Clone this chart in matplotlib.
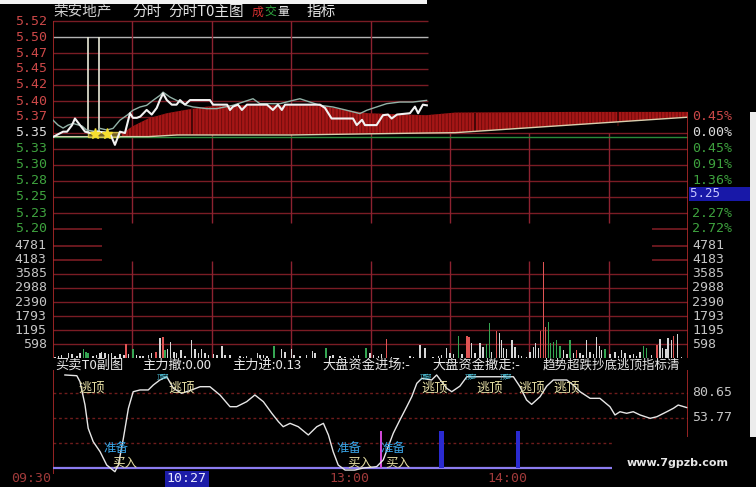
import matplotlib.pyplot as plt
from matplotlib.patches import Rectangle

plt.rcParams['font.family'] = ['Noto Sans CJK SC', 'DejaVu Sans']
plt.rcParams['hatch.linewidth'] = 0.6
MONO = 'DejaVu Sans Mono'
CJK = ['Noto Sans CJK SC', 'DejaVu Sans']

# ---- data ----
prev_close = 5.35
pct_step = 0.004539
price_labels = ['5.52', '5.50', '5.47', '5.45', '5.42', '5.40', '5.37',
                '5.35', '5.33', '5.30', '5.28', '5.25', '5.23', '5.20']
pct_labels = ['', '', '', '', '', '', '0.45%',
              '0.00%', '0.45%', '0.91%', '1.36%', '5.25', '2.27%', '2.72%']
vol_labels = ['4781', '4183', '3585', '2988', '2390', '1793', '1195', '598']
ind_labels = ['80.65', '53.77']

price_m = [0, 3.8, 5.3, 7.2, 8.3, 10.2, 12.1, 14.0, 17.0, 21.5,
           23.4, 25.3, 27.2, 29.1, 30.2, 31.7, 33.0, 35.4, 37.3, 39.2,
           40.4, 41.6, 43.0, 44.9, 46.7, 48.0, 49.9, 51.8, 59.3, 60.5,
           65.8, 66.9, 68.0, 69.9, 71.4, 73.3, 80.9, 83.1, 85.0, 86.5,
           87.7, 100.9, 102.8, 105.3, 113.4, 114.8, 116.8, 117.9, 122.3, 124.7,
           126.6, 128.0, 130.0, 134.9, 136.8, 138.0, 139.8, 141.3]
price_v = [5.344, 5.352, 5.352, 5.362, 5.372, 5.362, 5.352, 5.350, 5.352, 5.350,
           5.332, 5.352, 5.350, 5.380, 5.373, 5.373, 5.375, 5.385, 5.378, 5.388,
           5.400, 5.410, 5.400, 5.393, 5.393, 5.400, 5.393, 5.400, 5.400, 5.393,
           5.393, 5.385, 5.390, 5.393, 5.385, 5.393, 5.393, 5.385, 5.393, 5.385,
           5.393, 5.393, 5.388, 5.372, 5.372, 5.362, 5.370, 5.362, 5.362, 5.377,
           5.378, 5.372, 5.378, 5.380, 5.390, 5.380, 5.393, 5.392]

avg_m = [0, 1.9, 3.8, 5.7, 7.6, 11.0, 12.7, 16.6, 17.8, 20.4,
         22.7, 25.3, 28.0, 30.2, 32.9, 35.4, 37.8, 40.4, 41.6, 44.2,
         46.7, 50.5, 52.9, 58.1, 61.9, 68.0, 71.8, 75.6, 78.2, 85.8,
         90.7, 93.3, 97.1, 100.9, 105.8, 111.0, 116.0, 118.6, 122.3, 126.1,
         131.1, 136.0, 141.2]
avg_v = [5.3695, 5.362, 5.3575, 5.362, 5.3645, 5.3605, 5.3545, 5.352, 5.357, 5.3545,
         5.357, 5.3695, 5.377, 5.3845, 5.3895, 5.392, 5.3995, 5.407, 5.412, 5.4045,
         5.3995, 5.392, 5.3895, 5.387, 5.387, 5.392, 5.397, 5.402, 5.3945, 5.3945,
         5.3995, 5.402, 5.397, 5.392, 5.3895, 5.3845, 5.3795, 5.3845, 5.3895, 5.3945,
         5.397, 5.397, 5.3995]

red_m = [26, 30, 36, 43, 50, 58, 68, 101, 106, 119, 141, 152, 196, 240]
red_top = [5.349, 5.360, 5.372, 5.380, 5.385, 5.390, 5.392, 5.392, 5.388, 5.380,
           5.377, 5.381, 5.382, 5.382]
red_bot = [5.345, 5.345, 5.345, 5.346, 5.347, 5.347, 5.347, 5.348, 5.348, 5.349,
           5.350, 5.3505, 5.362, 5.374]
red_dark_m = [52.4, 159.5, 213.5]
base_m = [0, 36, 47, 90, 141, 152, 240]
base_v = [5.3445, 5.3445, 5.347, 5.347, 5.350, 5.3505, 5.374]
mark_m = [13.3, 17.5]
star_m = [15.9, 20.4]
star_v = [5.349, 5.349]

vol_m = [0.8, 2.0, 3.3, 5.8, 7.1, 9.0, 10.2, 11.5, 12.5, 13.3,
         15.2, 16.5, 17.8, 18.4, 19.7, 20.9, 22.2, 23.4, 25.3, 26.8,
         27.6, 28.5, 30.3, 31.6, 32.9, 34.1, 36.0, 37.3, 38.9, 40.4,
         41.5, 42.3, 43.2, 44.5, 45.7, 46.7, 48.3, 49.9, 52.4, 53.7,
         54.9, 56.2, 57.4, 58.7, 60.6, 61.9, 63.8, 65.0, 66.9, 70.7,
         71.9, 73.2, 77.2, 78.2, 79.5, 80.8, 83.5, 86.4, 87.7, 90.2,
         91.1, 93.4, 95.9, 98.1, 99.0, 103.2, 104.7, 105.9, 108.5, 110.4,
         113.5, 115.4, 118.3, 119.8, 121.1, 123.0, 124.2, 126.1, 128.0, 134.9,
         136.2, 138.7, 140.6, 143.7, 145.6, 146.9, 148.8, 150.0, 151.3, 153.2,
         154.5, 156.4, 157.3, 158.2, 159.5, 161.4, 162.6, 163.9, 164.9, 165.8,
         167.7, 168.7, 169.6, 170.2, 171.5, 173.4, 174.6, 175.9, 177.1, 179.0,
         180.3, 181.6, 182.4, 183.4, 184.3, 185.3, 186.2, 187.2, 188.1, 189.1,
         190.4, 191.6, 192.9, 194.2, 195.4, 196.7, 197.9, 199.2, 200.4, 201.7,
         203.0, 204.2, 205.5, 206.5, 207.4, 208.6, 210.5, 212.4, 213.7, 214.9,
         216.2, 218.1, 219.3, 220.6, 221.9, 223.1, 224.4, 226.3, 228.2, 229.4,
         230.4, 231.7, 232.5, 233.8, 234.5, 236.1, 237.6]
vol_v = [71, 99, 142, 242, 185, 100, 213, 398, 284, 242,
         100, 142, 213, 284, 242, 185, 213, 100, 185, 142,
         612, 185, 384, 142, 100, 100, 142, 213, 284, 854,
         925, 356, 384, 683, 284, 242, 356, 100, 783, 384,
         242, 384, 213, 142, 185, 142, 526, 142, 142, 100,
         71, 100, 242, 142, 142, 100, 526, 384, 284, 384,
         142, 100, 142, 327, 213, 427, 100, 142, 100, 71,
         100, 142, 455, 242, 142, 100, 185, 811, 71, 100,
         71, 569, 427, 71, 100, 142, 427, 242, 185, 953,
         185, 953, 925, 640, 213, 640, 498, 612, 1494, 284,
         1181, 1067, 783, 427, 384, 783, 498, 142, 100, 71,
         284, 498, 640, 427, 1181, 4098, 1352, 1565, 640, 712,
         783, 527, 356, 185, 783, 213, 356, 213, 142, 783,
         284, 185, 925, 527, 356, 384, 185, 284, 100, 356,
         213, 142, 185, 100, 284, 527, 427, 142, 569, 811,
         427, 398, 854, 783, 953, 1039, 71]
vol_c = list('wwwwwwwggg' 'wwwwwwwwww' 'rwgwwwwwrw' 'rgwwwwwwww'
             'wwwwwwwwww' 'wwwwwwgwww' 'wwwwwgwwww' 'wwgwwwwrww'
             'wwwwwwwwwg' 'wrrwwwwggw' 'rwwwwwwwww' 'wwwwrrrggg'
             'ggwwgwrwww' 'wwwwwgwwww' 'wwwwwggwrw' 'wwwwrww')

ind_m = [4.5, 9.0, 10.2, 12.1, 13.3, 15.2, 17.8, 20.3, 23.4, 24.7,
         26.6, 28.5, 30.3, 32.9, 36.0, 37.9, 40.4, 43.0, 45.5, 48.6,
         52.4, 55.6, 59.3, 63.1, 66.9, 69.4, 73.2, 76.3, 79.5, 82.7,
         85.2, 87.0, 89.6, 92.7, 96.5, 99.7, 102.2, 104.1, 105.9, 107.8,
         110.4, 114.1, 117.3, 122.3, 124.8, 126.7, 128.6, 131.1, 133.7, 135.6,
         137.5, 139.4, 143.1, 145.0, 148.8, 150.7, 153.8, 156.4, 158.9, 163.9,
         171.5, 174.0, 176.5, 179.0, 180.9, 184.1, 186.6, 189.1, 194.2, 196.7,
         199.2, 203.0, 206.7, 210.5, 212.4, 214.3, 216.8, 219.3, 221.9, 225.7,
         228.2, 232.0, 234.5, 236.3, 239.5]
ind_v = [100, 99.2, 92.8, 67.7, 42.7, 28.3, 17.5, 3.2, -4.0, 3.2,
         31.9, 64.2, 82.0, 83.9, 83.9, 89.2, 94.6, 98.1, 85.7, 80.3,
         83.9, 87.4, 87.4, 78.5, 65.9, 65.9, 71.3, 78.5, 71.3, 58.8,
         49.8, 44.4, 48.0, 44.4, 35.5, 44.4, 48.0, 35.5, 17.5, 3.2,
         -2.2, -2.2, 0.0, 1.4, 8.6, 22.9, 37.3, 51.6, 65.9, 76.7,
         91.0, 96.4, 94.6, 100.0, 85.7, 82.0, 88.0, 98.1, 98.1, 98.1,
         98.1, 98.1, 87.4, 73.1, 68.4, 76.7, 88.0, 94.6, 94.6, 89.0,
         82.0, 74.9, 74.9, 65.9, 57.0, 60.5, 58.8, 60.5, 57.0, 53.4,
         55.1, 60.5, 64.2, 67.7, 65.0]
ind_grid = [80.65, 53.77, 26.88]

top_sig_m = [9.4, 43.5, 139.4, 160.1, 175.7, 189.0]
top_icon_m = [39.3, 138.7, 155.7, 169.0]
prep_m = [18.9, 107.3, 123.6]
buy_m = [22.3, 111.1, 125.5]
blue_m = [146.9, 175.9]
blue_w = [1.9, 1.5]
blue_h = [40, 40]
pink_m = [124.0]
pink_h = [40]

time_m = [0, 120, 180]
time_labels = ['09:30', '13:00', '14:00']
cursor_m = 57
cursor_label = '10:27'

# ---- layout ----
W, H = 756, 487
GRID = '#7a1c24'
VGRID = '#8c2230'
BORDER = '#b02a2a'
RED_TXT = '#cc4848'
GRN_TXT = '#3ea23e'
WHT_TXT = '#dcdcdc'
GRY_TXT = '#c4c4c4'
ROW_PX = 16.0
UPPER_END = 141.7

fig = plt.figure(figsize=(W / 100, H / 100), dpi=100, facecolor='black')


def panel(y0, y1):
    ax = fig.add_axes([53 / W, 1 - y1 / H, 635 / W, (y1 - y0) / H])
    ax.set_facecolor('none')
    ax.set_xlim(0, 240)
    for s in ax.spines.values():
        s.set_visible(False)
    ax.set_xticks([])
    ax.set_yticks([])
    return ax


step = prev_close * pct_step
pp = step / ROW_PX
ax_p = panel(14, 237)
ax_p.set_ylim(prev_close - (237 - 133) * pp, prev_close + (133 - 14) * pp)
ax_v = panel(237, 358.4)
ax_v.set_ylim(0, (358.4 - 237) * 597.6 / 14.09)
ax_i = panel(370, 474)
ax_i.set_ylim(-6.45, 105.35)

ks = list(range(7, -7, -1))
price_ticks = [prev_close * (1 + pct_step * k) for k in ks]

# price grid
for k, p, lbl, plbl in zip(ks, price_ticks, price_labels, pct_labels):
    col = RED_TXT if k > 0 else (WHT_TXT if k == 0 else GRN_TXT)
    if k >= 1:
        ax_p.hlines(p, 0, UPPER_END, color='#b4b4b4' if k == 6 else GRID, lw=1, zorder=1)
    elif k >= -5:
        ax_p.hlines(p, 0, 240, color=GRID, lw=1, zorder=1)
    else:
        ax_p.hlines(p, 0, 18.5, color=GRID, lw=1.2, zorder=1)
        ax_p.hlines(p, 226.4, 240, color=GRID, lw=1.2, zorder=1)
    ax_p.annotate(lbl, xy=(0, p), xycoords=('axes fraction', 'data'), xytext=(-4.5, 0),
                  textcoords='offset points', ha='right', va='center',
                  fontsize=9.5, family=MONO, color=col)
    if plbl == '5.25':
        ax_p.annotate('5.25    ', xy=(1, p), xycoords=('axes fraction', 'data'), xytext=(1.2, 2.4),
                      textcoords='offset points', ha='left', va='center',
                      fontsize=9, family=MONO, color='#c8c8ff',
                      bbox=dict(boxstyle='square,pad=0.05', fc='#1818a8', ec='none'))
    elif plbl:
        ax_p.annotate(plbl, xy=(1, p), xycoords=('axes fraction', 'data'), xytext=(3, 0),
                      textcoords='offset points', ha='left', va='center',
                      fontsize=9.5, family=MONO, color=col)

p_low = prev_close - 5.6 * step
ax_p.vlines([30, 60, 90, 120], p_low, price_ticks[0], color=VGRID, lw=1, zorder=1)
ax_p.vlines([150, 180, 210], p_low, prev_close, color=VGRID, lw=1, zorder=1)
ax_p.vlines(0, ax_p.get_ylim()[0], price_ticks[0], color=BORDER, lw=1.2, zorder=5)
ax_p.vlines(240, ax_p.get_ylim()[0], red_top[-1], color=BORDER, lw=1.2, zorder=5)

# green pre-close line, red fill, base line
ax_p.hlines(base_v[0], 0, 240, color='#2a8a3a', lw=1, zorder=2)
ax_p.fill_between(red_m, red_bot, red_top, facecolor='#a51616', edgecolor='#6a0a0a',
                  hatch='|||||', linewidth=0, zorder=2)
ax_p.vlines(red_dark_m, [5.349, 5.350, 5.360], [5.388, 5.381, 5.382], color='#3a0505', lw=1.2, zorder=3)
ax_p.plot(base_m, base_v, color='#d8cfae', lw=1, zorder=3)

ax_p.vlines(mark_m, prev_close, price_ticks[1], color='#e8e8d8', lw=1.2, zorder=4)
ax_p.add_patch(Rectangle((mark_m[0], 5.3445), 11.5, 0.0075, fc='#8a7a30', ec='#e8d850',
                         lw=1, alpha=0.8, zorder=4))
ax_p.plot(avg_m, avg_v, color='#93b3a8', lw=1, zorder=5)
ax_p.plot(price_m, price_v, color='#f2f2f2', lw=1.5, zorder=6)
ax_p.plot(star_m, star_v, ls='none', marker='*', ms=8, color='#f5e030', zorder=7)

# volume
vol_ticks = [float(v) for v in vol_labels]
for v, lbl in zip(vol_ticks, vol_labels):
    if v > 4000:
        ax_v.hlines(v, 0, 18.5, color=GRID, lw=1.2)
        ax_v.hlines(v, 226.4, 240, color=GRID, lw=1.2)
    else:
        ax_v.hlines(v, 0, 240, color=GRID, lw=1)
    ax_v.annotate(lbl, xy=(0, v), xycoords=('axes fraction', 'data'), xytext=(-4.5, 0),
                  textcoords='offset points', ha='right', va='center',
                  fontsize=9.5, family=MONO, color=GRY_TXT)
    ax_v.annotate(lbl, xy=(1, v), xycoords=('axes fraction', 'data'), xytext=(3, 0),
                  textcoords='offset points', ha='left', va='center',
                  fontsize=9.5, family=MONO, color=GRY_TXT)
ax_v.vlines([30, 60, 90, 120, 150, 180, 210], 0, 4110, color=VGRID, lw=1)
ax_v.axvline(0, color=BORDER, lw=1.2)
ax_v.axvline(240, color=BORDER, lw=1.2)
cmap = {'w': '#d6d6d6', 'r': '#e05454', 'g': '#35a552'}
ax_v.bar(vol_m, vol_v, width=0.55, color=[cmap[c] for c in vol_c], zorder=3)

# indicator
for g in ind_grid:
    ax_i.hlines(g, 0, 240, color='#6e1c1c', lw=1, linestyle=(0, (2, 2)))
for g, lbl in zip(ind_grid, ind_labels):
    ax_i.annotate(lbl, xy=(1, g), xycoords=('axes fraction', 'data'), xytext=(3, 0),
                  textcoords='offset points', ha='left', va='center',
                  fontsize=9.5, family=MONO, color=GRY_TXT)
ax_i.axvline(0, color=BORDER, lw=1.2)
ax_i.vlines(240, 33, 105.35, color=BORDER, lw=1.2)
ax_i.hlines(0, 0, 240, color='#8c7cf0', lw=1.6, zorder=2)
ax_i.bar(blue_m, blue_h, width=blue_w, color='#2a2ad0', zorder=3)
ax_i.bar(pink_m, pink_h, width=1.0, color='#d048d8', zorder=3)
ax_i.plot(ind_m, ind_v, color='#e6e6e6', lw=1, zorder=4)
for m in top_sig_m:
    ax_i.text(m, 85.5, '逃顶', fontsize=9.5, color='#e6dea4', va='center', ha='left', family=CJK, zorder=5)
for m in top_icon_m:
    ax_i.text(m, 98.0, '顶部', fontsize=4.5, color='#50c8e0', va='center', ha='left', family=CJK, zorder=5)
for m in prep_m:
    ax_i.text(m, 20.5, '准备', fontsize=9, color='#3aa4e6', va='center', ha='left', family=CJK, zorder=5)
for m in buy_m:
    ax_i.text(m, 4.8, '买入', fontsize=9, color='#e6dea4', va='center', ha='left', family=CJK, zorder=5)

for m, lbl in zip(time_m, time_labels):
    ax_i.annotate(lbl, xy=(m, 0), xycoords=('data', 'axes fraction'), xytext=(-1, -3.6),
                  textcoords='offset points', ha='right', va='center',
                  fontsize=9.5, family=MONO, color='#a03a3a')
ax_i.annotate(cursor_label, xy=(cursor_m, 0), xycoords=('data', 'axes fraction'), xytext=(2, -3.6),
              textcoords='offset points', ha='right', va='center',
              fontsize=9.5, family=MONO, color='#e8e8ff',
              bbox=dict(boxstyle='square,pad=0.15', fc='#1c1ca8', ec='none'))

# header rows
def ftext(x, y, s, color, size=10, **kw):
    fig.text(x / W, 1 - y / H, s, color=color, fontsize=size, va='center', ha='left', family=CJK, **kw)


ftext(54, 12, '荣安地产', '#cfcfcf', 10.5)
ftext(132, 12, '分时', '#e4e4e4', 10.5)
ftext(168, 12, '分时T0主图', '#e4e4e4', 10.5)
ftext(252, 12, '成', '#d83030', 8.5)
ftext(264.5, 12, '交', '#30a840', 8.5)
ftext(277, 12, '量', '#e4e4e4', 8.5)
ftext(307, 12, '指标', '#e4e4e4', 10.5)

ftext(55, 365, '买卖T0副图', '#e8e8e8', 9.5)
ftext(142, 365, '主力撤:0.00', '#e8e8e8', 9.5)
ftext(232, 365, '主力进:0.13', '#e8e8e8', 9.5)
ftext(322, 365, '大盘资金进场:-', '#e8e8e8', 9.5)
ftext(432, 365, '大盘资金撤走:-', '#e8e8e8', 9.5)
ftext(543, 365, '趋势超跌抄底逃顶指标清', '#e8e8e8', 9)

# screenshot edges and watermark box
fig.patches.append(Rectangle((0, 1 - 4.3 / H), 427 / W, 4.3 / H, transform=fig.transFigure,
                             fc='#f2f2f2', ec='none', zorder=10))
fig.patches.append(Rectangle((750 / W, 1 - 437 / H), 6 / W, 325 / H, transform=fig.transFigure,
                             fc='#ececec', ec='none', zorder=10))
fig.patches.append(Rectangle((612 / W, 0), (W - 612) / W, 50 / H, transform=fig.transFigure,
                             fc='black', ec='none', zorder=10))
fig.text(678 / W, 1 - 463 / H, 'www.7gpzb.com', color='#e6e6e6', fontsize=8, fontweight='bold',
         ha='center', va='center', family='DejaVu Sans', zorder=11)

fig.savefig('out.png', dpi=100, facecolor='black')
